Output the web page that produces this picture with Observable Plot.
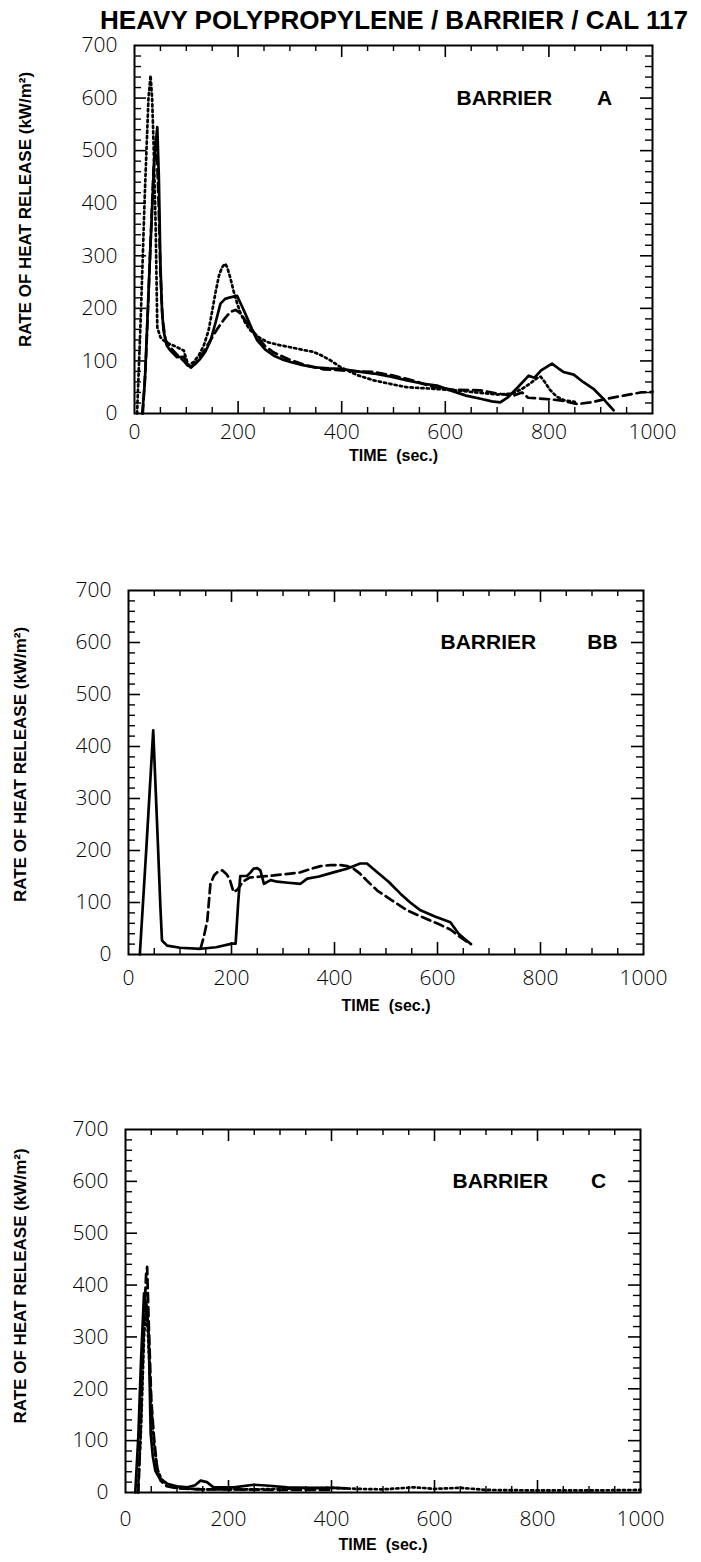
<!DOCTYPE html>
<html><head><meta charset="utf-8">
<script src="https://cdn.jsdelivr.net/npm/d3@7"></script>
<script src="https://cdn.jsdelivr.net/npm/@observablehq/plot@0.6"></script>
<style>
html,body{margin:0;padding:0;background:#fff;}
#page{position:relative;width:701px;height:1562px;overflow:hidden;background:#fff;}
#title{position:absolute;left:100px;top:11px;font-family:"Liberation Sans Narrow","Liberation Sans",Arial,sans-serif;font-weight:bold;font-size:26px;white-space:nowrap;transform-origin:0 0;line-height:0.75;color:#000;}
.panel{position:absolute;left:0;}
</style></head><body>
<div id="page"><div id="title">HEAVY POLYPROPYLENE / BARRIER / CAL 117</div></div>
<script>
// ---- tick values and labels ----
const xTickLabels = [0, 200, 400, 600, 800, 1000];
const xMajorTicks = [200, 400, 600, 800];
const xMinorTicks = [50, 100, 150, 250, 300, 350, 450, 500, 550, 650, 700, 750, 850, 900, 950];
const yTickLabels = [0, 100, 200, 300, 400, 500, 600, 700];
const yMajorTicks = [100, 200, 300, 400, 500, 600];
const yMinorTicks = [20,40,60,80,120,140,160,180,220,240,260,280,320,340,360,380,420,440,460,480,520,540,560,580,620,640,660,680];
const xTitle = "TIME  (sec.)";
const yTitle = "RATE OF HEAT RELEASE (kW/m²)";
const panelNames = ["BARRIER", "BARRIER", "BARRIER"];
const panelLetters = ["A", "BB", "C"];

// ---- Barrier A: [time s, RHR kW/m2] ----
const aSolid = [[15,0],[20,60],[30,300],[38,480],[44,545],[47,450],[50,285],[53,200],[56,158],[62,130],[69,120],[82,107],[95,108],[101,95],[108,88],[118,95],[127,104],[137,118],[147,139],[157,175],[166,209],[175,218],[185,221],[198,224],[207,205],[217,183],[227,160],[237,139],[252,122],[269,110],[285,103],[301,98],[325,92],[346,88],[375,86],[398,85],[430,80],[462,76],[495,70],[526,63],[555,57],[584,53],[610,44],[640,34],[668,28],[690,23],[706,21],[720,30],[740,50],[761,72],[772,68],[785,82],[806,95],[818,86],[828,79],[848,74],[866,60],[886,47],[905,28],[925,6]];
const aDashed = [[16,0],[22,100],[30,300],[37,470],[42,525],[46,420],[50,270],[54,180],[60,140],[70,125],[82,112],[95,100],[102,92],[108,86],[120,98],[135,120],[150,145],[160,161],[172,178],[185,193],[195,197],[205,190],[220,168],[237,146],[252,128],[269,116],[300,102],[330,92],[365,84],[400,82],[430,80],[462,79],[500,72],[540,62],[578,50],[617,45],[668,44],[700,38],[732,34],[748,40],[760,30],[790,28],[822,25],[855,18],[880,21],[912,28],[944,34],[977,40],[1000,41]];
const aDotted = [[5,0],[12,180],[20,420],[27,600],[31,643],[34,600],[37,507],[41,348],[44,164],[50,145],[56,139],[66,133],[76,129],[86,124],[95,120],[104,91],[114,98],[124,110],[134,130],[143,158],[150,195],[156,228],[163,262],[169,278],[175,285],[179,278],[185,258],[191,234],[198,210],[205,190],[214,172],[224,158],[240,145],[256,136],[280,130],[301,126],[325,121],[346,117],[362,110],[380,100],[398,88],[430,73],[462,63],[495,56],[526,50],[577,47],[620,44],[660,40],[700,36],[730,38],[750,48],[765,58],[778,68],[784,70],[792,60],[802,45],[815,32],[830,25],[850,22]];

// ---- Barrier BB ----
const bSolid = [[22,0],[35,210],[48,431],[56,240],[62,90],[65,27],[75,17],[100,13],[140,11],[170,14],[201,21],[208,21],[213,100],[217,151],[230,151],[237,158],[243,165],[250,166],[256,162],[263,136],[276,143],[289,140],[310,138],[334,136],[347,146],[370,150],[398,158],[424,165],[450,175],[463,175],[483,158],[505,140],[528,117],[547,100],[567,85],[595,73],[625,62],[641,40],[650,32],[660,24],[665,20]];
const bDashed = [[140,12],[146,33],[153,65],[159,135],[166,152],[172,158],[182,162],[190,155],[196,146],[204,120],[212,125],[222,140],[235,148],[258,150],[282,152],[310,155],[334,158],[355,165],[373,170],[392,172],[412,172],[425,170],[437,165],[450,155],[463,142],[483,123],[510,105],[541,85],[570,72],[599,60],[625,48],[645,33],[658,24]];

// ---- Barrier C ----
const cSolid = [[19,0],[25,110],[30,250],[36,384],[41,360],[45,306],[49,113],[53,70],[58,42],[66,28],[81,17],[100,12],[120,10],[135,14],[146,23],[158,20],[171,10],[210,10],[249,15],[280,13],[314,10],[360,9],[404,9],[430,8]];
const cDashed = [[25,0],[30,140],[36,330],[40,420],[42,435],[45,330],[50,180],[55,110],[61,50],[68,23],[80,12],[100,8],[150,6],[200,6],[300,5],[400,5]];
const cDotted = [[24,0],[30,120],[36,300],[40,360],[44,300],[50,170],[55,95],[62,45],[70,25],[85,12],[110,8],[150,6],[250,6],[350,8],[400,9],[450,7],[500,6],[560,10],[600,7],[650,9],[700,5],[800,4],[900,4],[1000,5]];

const series = [
  [{d: aSolid, dash: null}, {d: aDashed, dash: "9,5"}, {d: aDotted, dash: "2.2,3.2"}],
  [{d: bSolid, dash: null}, {d: bDashed, dash: "9,5"}],
  [{d: cSolid, dash: null}, {d: cDashed, dash: "9,5"}, {d: cDotted, dash: "2.2,3.2"}]
];

// layout per panel (page pixels)
const layout = [
  {top: 30,  h: 450, ml: 134, mr: 49, mt: 15, mb: 67, xpad: 11, tdy: 42, ydx: 25, ydy: -20, lblX: 456, letX: 604},
  {top: 570, h: 460, ml: 128, mr: 58, mt: 20, mb: 76, xpad: 16, tdy: 51, ydx: 20, ydy: -8, lblX: 440, letX: 602},
  {top: 1110, h: 452, ml: 125, mr: 61, mt: 19, mb: 70, xpad: 19, tdy: 52, ydx: 20, ydy: -25, lblX: 452, letX: 598}
];

const numFont = "'Open Sans', Lato, sans-serif";
const boldFont = "'Liberation Sans', Arial, sans-serif";

function panel(i) {
  const p = layout[i];
  const W = 701;
  const fw = W - p.ml - p.mr, fh = p.h - p.mt - p.mb;
  const lines = series[i].map(s => Plot.line(s.d, {x: d => d[0], y: d => d[1], stroke: "black", strokeWidth: 2.7, strokeDasharray: s.dash, strokeLinejoin: "round"}));
  const labelDy = (700 - 600) * fh / 700;
  const svg = Plot.plot({
    width: W, height: p.h,
    marginLeft: p.ml, marginRight: p.mr, marginTop: p.mt, marginBottom: p.mb,
    x: {domain: [0, 1000], axis: null},
    y: {domain: [0, 700], axis: null},
    style: {background: "white", color: "black", overflow: "visible"},
    marks: [
      Plot.tickX(xMinorTicks, {x: d => d, insetTop: fh - 6, strokeWidth: 1.4}),
      Plot.tickX(xMinorTicks, {x: d => d, insetBottom: fh - 6, strokeWidth: 1.4}),
      Plot.tickX(xMajorTicks, {x: d => d, insetTop: fh - 12, strokeWidth: 1.6}),
      Plot.tickX(xMajorTicks, {x: d => d, insetBottom: fh - 12, strokeWidth: 1.6}),
      Plot.tickY(yMinorTicks, {y: d => d, insetRight: fw - 7, strokeWidth: 1.4}),
      Plot.tickY(yMinorTicks, {y: d => d, insetLeft: fw - 7, strokeWidth: 1.4}),
      Plot.tickY(yMajorTicks, {y: d => d, insetRight: fw - 12, strokeWidth: 1.6}),
      Plot.tickY(yMajorTicks, {y: d => d, insetLeft: fw - 12, strokeWidth: 1.6}),
      ...lines,
      Plot.frame({stroke: "black", strokeWidth: 2}),
      Plot.axisX({ticks: xTickLabels, tickSize: 0, tickPadding: p.xpad, tickFormat: d => String(d), fontSize: 21, fontFamily: numFont, fontWeight: 300, label: null}),
      Plot.axisY({ticks: yTickLabels, tickSize: 0, tickPadding: 17, tickFormat: d => String(d), fontSize: 21, fontFamily: numFont, fontWeight: 300, label: null}),
      Plot.text([xTitle], {frameAnchor: "bottom", dy: p.tdy, text: d => d, fontSize: 16, fontWeight: "bold", fontFamily: boldFont, lineAnchor: "middle", textAnchor: "middle", letterSpacing: 1.5}),
      Plot.text([yTitle], {frameAnchor: "left", textAnchor: "middle", dx: p.ydx - p.ml, dy: p.ydy, rotate: -90, text: d => d, fontSize: 17, fontWeight: "bold", fontFamily: boldFont, lineAnchor: "middle", letterSpacing: 2}),
      Plot.text([panelNames[i]], {frameAnchor: "top-left", dx: p.lblX - p.ml, dy: labelDy, text: d => d, textAnchor: "start", lineAnchor: "middle", fontSize: 21, fontWeight: "bold", fontFamily: boldFont, letterSpacing: 1.2}),
      Plot.text([panelLetters[i]], {frameAnchor: "top-left", dx: p.letX - p.ml, dy: labelDy, text: d => d, textAnchor: "middle", lineAnchor: "middle", fontSize: 21, fontWeight: "bold", fontFamily: boldFont, letterSpacing: 1.2})
    ]
  });
  svg.classList.add("panel");
  svg.style.top = p.top + "px";
  return svg;
}

const page = document.getElementById("page");
for (let i = 0; i < 3; i++) page.appendChild(panel(i));

// fit title width to reference span (100 -> 688)
const t = document.getElementById("title");
const w = t.getBoundingClientRect().width;
if (w > 0) t.style.transform = `scaleX(${588 / w})`;
</script>
</body></html>
